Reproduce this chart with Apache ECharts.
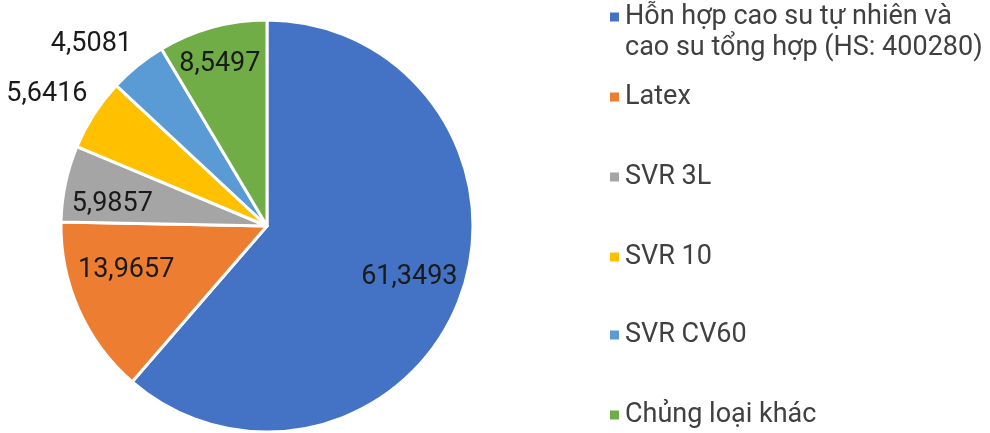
<!DOCTYPE html>
<html>
<head>
<meta charset="utf-8">
<script src="https://cdn.jsdelivr.net/npm/echarts@6/dist/echarts.min.js"></script>
<style>
  html, body { margin: 0; padding: 0; background: #fff; }
  #chart { width: 990px; height: 433px; }
</style>
</head>
<body>
<div id="chart"></div>
<script>
  // danh muc va gia tri (%)
  const names = [
    'Hỗn hợp cao su tự nhiên và\ncao su tổng hợp (HS: 400280)',
    'Latex',
    'SVR 3L',
    'SVR 10',
    'SVR CV60',
    'Chủng loại khác'
  ];
  const values = [61.3493, 13.9657, 5.9857, 5.6416, 4.5081, 8.5497];
  const colors = ['#4472C4', '#ED7D31', '#A5A5A5', '#FFC000', '#5B9BD5', '#70AD47'];

  const font = 'Roboto';
  // label nudges from the 'inside' spot, like excel best fit
  const labelOffsets = [[43, 14], [-44, 1], [-51, 0], [-131, -74], [-109, -99], [-19, -60]];
  const legendY = [17, 97, 177, 257, 335, 415];

  let chart = echarts.init(document.getElementById('chart'));

  let legends = names.map((n, i) => {
    let multi = n.indexOf('\n') >= 0;
    return {
      left: 608,
      top: multi ? legendY[i] - 46.5 : legendY[i] - 15.5,
      padding: 0,
      orient: 'vertical',
      icon: 'rect',
      itemWidth: 11,
      itemHeight: 11,
      itemGap: 0,
      selectedMode: false,
      data: [n],
      // empty first line so the marker sits on line one
      formatter: name => multi ? '\n' + name : name,
      textStyle: {
        fontFamily: font,
        fontSize: 27,
        color: '#404040',
        lineHeight: 31
      }
    };
  });

  let option = {
    animation: false,
    color: colors,
    legend: legends,
    series: [{
      type: 'pie',
      center: [267, 226],
      radius: [0, 206],
      startAngle: 90,
      clockwise: true,
      silent: true,
      itemStyle: { borderColor: '#fff', borderWidth: 3 },
      labelLine: { show: false },
      label: {
        show: true,
        position: 'inside',
        fontFamily: font,
        fontSize: 27,
        color: '#1a1a1a',
        formatter: p => p.value.toFixed(4).replace('.', ',')
      },
      data: names.map((n, i) => ({
        name: n,
        value: values[i],
        label: { offset: labelOffsets[i] }
      }))
    }]
  };
  chart.setOption(option);
</script>
</body>
</html>
